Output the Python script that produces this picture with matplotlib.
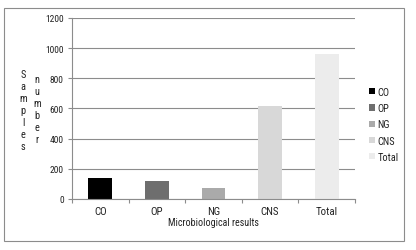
import matplotlib
matplotlib.use("Agg")
import matplotlib.pyplot as plt
from matplotlib.patches import Rectangle

# data
categories = ["CO", "OP", "NG", "CNS", "Total"]
samples = [140, 121, 74, 618, 960]
colors = ["#000000", "#6e6e6e", "#aaaaaa", "#d8d8d8", "#ececec"]
yticks = [0, 200, 400, 600, 800, 1000, 1200]

plt.rcParams['font.family'] = ['Roboto Condensed', 'DejaVu Sans']
grey = "#8c8c8c"
txt = "#222222"

fig = plt.figure(figsize=(4.16, 2.51), dpi=100)
ax = fig.add_axes([72 / 416, 1 - 200 / 251, 283 / 416, 181 / 251])

x = list(range(len(categories)))
bars = ax.bar(x, samples, width=0.42, color=colors, zorder=2)

ax.set_xlim(-0.5, len(categories) - 0.5)
ax.set_ylim(0, 1200)
ax.set_yticks(yticks)
ax.set_yticklabels([str(v) for v in yticks], fontsize=6.8, color=txt)
ax.yaxis.grid(True, color=grey, linewidth=0.8, zorder=0)

ax.set_xticks(x)
ax.set_xticklabels(categories, fontsize=7.8, color=txt)
ax.set_xticks([i - 0.5 for i in range(len(categories) + 1)], minor=True)
ax.tick_params(axis="x", which="major", length=0, pad=5)
ax.tick_params(axis="x", which="minor", length=3, color=grey, width=0.8)
ax.tick_params(axis="y", length=3, color=grey, width=0.8, pad=3)

for side in ["top", "right"]:
    ax.spines[side].set_visible(False)
for side in ["left", "bottom"]:
    ax.spines[side].set_color(grey)
    ax.spines[side].set_linewidth(0.8)

ax.set_xlabel("Microbiological results", fontsize=7.2, labelpad=1, color=txt)

# stacked y label
fig.text(23 / 416, 1 - 111 / 251, "\n".join("Samples"), ha="center", va="center",
         fontsize=7.5, linespacing=1.25, color=txt)
fig.text(37 / 416, 1 - 110 / 251, "\n".join("number"), ha="center", va="center",
         fontsize=7.5, linespacing=1.25, color=txt)

ax.legend(bars.patches, categories, loc="upper left",
          bbox_to_anchor=(369 / 416, 1 - 88 / 251), bbox_transform=fig.transFigure,
          frameon=False, fontsize=7.5, handlelength=0.55, handleheight=0.55,
          handletextpad=0.25, labelspacing=0.6, borderaxespad=0, borderpad=0,
          labelcolor=txt)

# outer border
fig.patches.append(Rectangle((4 / 416, 1 - 242 / 251), 400 / 416, 233 / 251,
                             transform=fig.transFigure, fill=False,
                             edgecolor=grey, linewidth=0.8))

fig.savefig("out.png", dpi=100)
